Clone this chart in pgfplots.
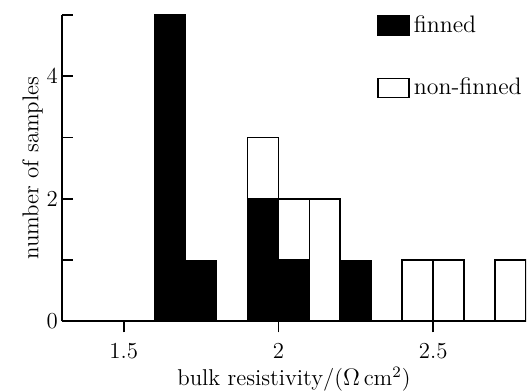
\documentclass[border=0pt]{standalone}
\usepackage{pgfplots}
\pgfplotsset{compat=1.18}
\begin{document}
\begin{tikzpicture}
\begin{axis}[
  scale only axis,
  width=232.5bp, height=153.5bp,
  xmin=1.3, xmax=2.8, ymin=0, ymax=5,
  axis x line=bottom, axis y line=left,
  axis line style={line width=0.9pt, -},
  xtick={1.5,2,2.5}, xticklabels={1.5,2,2.5},
  ytick={0,1,2,3,4,5}, yticklabels={0,,2,,4,},
  xtick align=outside, ytick align=inside,
  major tick length=5.5bp,
  tick style={line width=0.9pt, black},
  tick label style={font=\fontsize{11.5}{13}\selectfont},
  xticklabel style={yshift=-2bp},
  yticklabel style={xshift=1.5bp},
  /pgf/number format/assume math mode=true,
  label style={font=\fontsize{11.5}{13}\selectfont},
  xlabel={bulk resistivity/($\Omega$\,cm$^{2}$)},
  ylabel={number of samples},
  xlabel style={yshift=3pt},
  ylabel style={yshift=-5pt},
  ybar stacked, bar width=0.1, bar shift=0pt,
  legend style={at={(1,1)}, anchor=north east, yshift=2bp, draw=none, fill=none, inner sep=0pt,
    row sep=17.5bp, font=\fontsize{12}{14}\selectfont, /tikz/every even column/.style={column sep=0pt}},
  legend cell align=left,
  legend image code/.code={\draw[#1, line width=0.8pt] (0bp,-4.75bp) rectangle (15.5bp,4.75bp);},
]
\addplot[fill=black, draw=black, line width=0.5pt] coordinates {
 (1.65,5) (1.75,1) (1.95,2) (2.05,1) (2.15,0) (2.25,1) (2.45,0) (2.55,0) (2.75,0)};
\addplot[fill=white, draw=black, line width=0.9pt] coordinates {
 (1.65,0) (1.75,0) (1.95,1) (2.05,1) (2.15,2) (2.25,0) (2.45,1) (2.55,1) (2.75,1)};
\legend{finned,non-finned}
\end{axis}
\pgfresetboundingbox
\path (-31bp,-35bp) rectangle (233bp,161bp);
\end{tikzpicture}
\end{document}
